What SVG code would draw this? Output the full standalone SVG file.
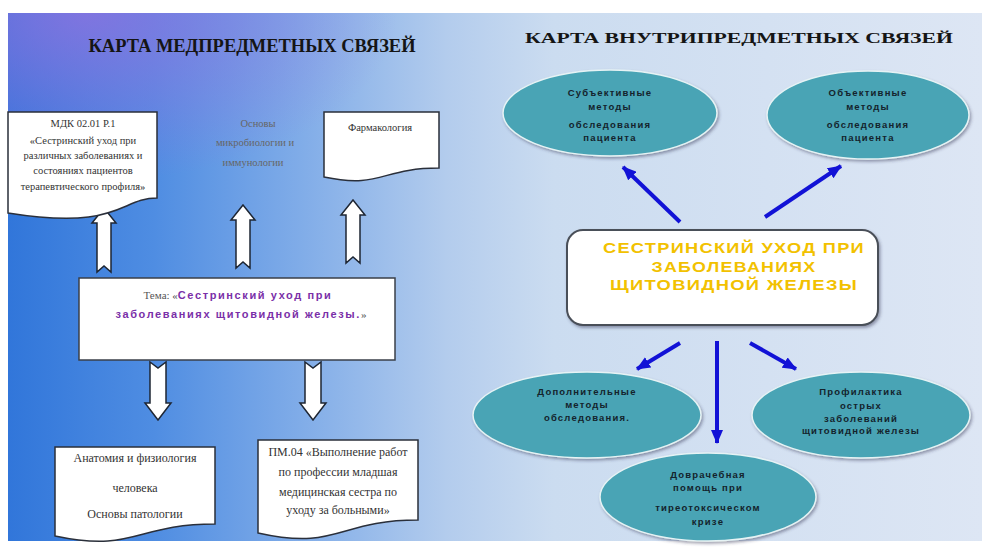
<svg xmlns="http://www.w3.org/2000/svg" width="984" height="547" viewBox="0 0 984 547">
<defs>
<linearGradient id="bg" x1="0" y1="0" x2="1" y2="0">
<stop offset="0" stop-color="#3176da"/>
<stop offset="0.15" stop-color="#4f8de2"/>
<stop offset="0.3" stop-color="#80ace8"/>
<stop offset="0.45" stop-color="#b3cced"/>
<stop offset="0.56" stop-color="#cbdcf0"/>
<stop offset="1" stop-color="#dde6f4"/>
</linearGradient>
<radialGradient id="purple" cx="0.08" cy="0" r="0.32">
<stop offset="0" stop-color="#9470e0" stop-opacity="0.75"/>
<stop offset="1" stop-color="#9470e0" stop-opacity="0"/>
</radialGradient>
<filter id="sh" x="-10%" y="-10%" width="130%" height="140%">
<feDropShadow dx="1.5" dy="2" stdDeviation="1.5" flood-color="#335" flood-opacity="0.45"/>
</filter>
<marker id="ah" viewBox="0 0 14 12" refX="13" refY="6" markerWidth="14" markerHeight="12" orient="auto" markerUnits="userSpaceOnUse">
<path d="M0,0 L14,6 L0,12 Z" fill="#1212d6"/>
</marker>
<style>
.doc{fill:#fff;stroke:#2a2f3a;stroke-width:1.5}
.ser{font-family:"Liberation Serif","Times New Roman",serif;fill:#333;text-anchor:middle}
.s10{font-size:10.5px}
.s11{font-size:12px}
.gray{fill:#666}
.ell{fill:#4aa4b5;stroke:#e6f3f5;stroke-width:1.5;filter:url(#sh)}
.et{font-family:"Liberation Sans",Arial,sans-serif;font-weight:bold;font-size:9.5px;fill:#14232c;text-anchor:middle;letter-spacing:1.2px}
.blk{fill:#fff;stroke:#1e2633;stroke-width:1.5;stroke-linejoin:miter}
.blue{stroke:#1212d6;stroke-width:4;fill:none;marker-end:url(#ah)}
.ttl{font-family:"Liberation Serif","Times New Roman",serif;font-weight:bold;fill:#151515}
.pur{font-family:"Liberation Sans",Arial,sans-serif;font-weight:bold;fill:#7a2fa8;letter-spacing:1.6px}
.gold{font-family:"Liberation Sans",Arial,sans-serif;font-weight:bold;font-size:14px;fill:#f2c100;text-anchor:middle;letter-spacing:1px}
</style>
</defs>

<rect x="8" y="13" width="974" height="528" fill="url(#bg)"/>
<rect x="8" y="13" width="974" height="528" fill="url(#purple)"/>

<text class="ttl" x="252" y="52" font-size="19" text-anchor="middle" textLength="327" lengthAdjust="spacingAndGlyphs">КАРТА МЕДПРЕДМЕТНЫХ СВЯЗЕЙ</text>
<text class="ttl" x="739" y="43" font-size="15.5" text-anchor="middle" textLength="428" lengthAdjust="spacingAndGlyphs">КАРТА ВНУТРИПРЕДМЕТНЫХ СВЯЗЕЙ</text>

<g id="connectors">
<path class="blk" d="M104,208 L116,223 L111,223 L111,272 L104,266 L97,272 L97,223 L92,223 Z"/>
<path class="blk" d="M243,205 L255,220 L250,220 L250,268 L243,262 L236,268 L236,220 L231,220 Z"/>
<path class="blk" d="M353,200 L365,215 L360,215 L360,263 L353,257 L346,263 L346,215 L341,215 Z"/>
<path class="blk" d="M150,362 L158,368 L166,362 L166,403 L171,403 L158,420 L145,403 L150,403 Z"/>
<path class="blk" d="M305,362 L313,368 L321,362 L321,403 L326,403 L313,420 L300,403 L305,403 Z"/>
<line class="blue" x1="680" y1="222" x2="623" y2="167"/>
<line class="blue" x1="765" y1="217" x2="841" y2="166"/>
<line class="blue" x1="680" y1="343" x2="637" y2="369"/>
<line class="blue" x1="717" y1="341" x2="717" y2="443"/>
<line class="blue" x1="750" y1="343" x2="796" y2="369"/>
</g>

<g id="mdk">
<path class="doc" d="M8,112 H157 V198 C120,198 120,231 8,213 Z"/>
<text class="ser s10" x="83" y="127">МДК 02.01 Р.1</text>
<text class="ser s10" x="83" y="144">«Сестринский уход при</text>
<text class="ser s10" x="83" y="159">различных заболеваниях и</text>
<text class="ser s10" x="83" y="174">состояниях пациентов</text>
<text class="ser s10" x="83" y="190">терапевтического профиля»</text>
</g>

<g id="micro">
<text class="ser s10 gray" x="258" y="127">Основы</text>
<text class="ser s10 gray" x="255" y="146">микробиологии и</text>
<text class="ser s10 gray" x="253" y="166">иммунологии</text>
</g>

<g id="pharm">
<path class="doc" d="M324,112 H439 V168 C381,168 381,189 324,177 Z"/>
<text class="ser s10" x="380" y="131">Фармакология</text>
</g>

<g id="tema">
<rect x="79" y="278" width="316" height="82" fill="#fff" stroke="#3a3f48" stroke-width="1.5"/>
<text x="238" y="299" text-anchor="middle" font-size="11"><tspan font-family="Liberation Serif, serif" fill="#555">Тема: «</tspan><tspan class="pur">Сестринский уход при</tspan></text>
<text x="241" y="318" text-anchor="middle" font-size="11"><tspan class="pur">заболеваниях щитовидной железы.</tspan><tspan font-family="Liberation Serif, serif" fill="#555">»</tspan></text>
</g>

<g id="anat">
<path class="doc" d="M55,447 H215 V524 C135,524 135,553 55,536 Z"/>
<text class="ser s11" x="135" y="462">Анатомия и физиология</text>
<text class="ser s11" x="135" y="492">человека</text>
<text class="ser s11" x="135" y="518">Основы патологии</text>
</g>

<g id="pm04">
<path class="doc" d="M258,440 H418 V520 C338,520 338,551 258,533 Z"/>
<text class="ser s11" x="338" y="456">ПМ.04 «Выполнение работ</text>
<text class="ser s11" x="338" y="476">по профессии младшая</text>
<text class="ser s11" x="338" y="496">медицинская сестра по</text>
<text class="ser s11" x="338" y="514">уходу за больными»</text>
</g>

<g id="center">
<rect x="567" y="230" width="311" height="95" rx="16" fill="#fff" stroke="#4a4f58" stroke-width="2" filter="url(#sh)"/>
<text class="gold" x="734" y="253" textLength="262" lengthAdjust="spacingAndGlyphs">СЕСТРИНСКИЙ УХОД ПРИ</text>
<text class="gold" x="734" y="272" textLength="165" lengthAdjust="spacingAndGlyphs">ЗАБОЛЕВАНИЯХ</text>
<text class="gold" x="734" y="290" textLength="248" lengthAdjust="spacingAndGlyphs">ЩИТОВИДНОЙ ЖЕЛЕЗЫ</text>
</g>

<g id="subj">
<ellipse class="ell" cx="610" cy="113" rx="107" ry="43"/>
<text class="et" x="610" y="96">Субъективные</text>
<text class="et" x="610" y="110">методы</text>
<text class="et" x="610" y="128">обследования</text>
<text class="et" x="610" y="141">пациента</text>
</g>

<g id="obj">
<ellipse class="ell" cx="868" cy="115" rx="101" ry="44"/>
<text class="et" x="868" y="96">Объективные</text>
<text class="et" x="868" y="110">методы</text>
<text class="et" x="868" y="128">обследования</text>
<text class="et" x="868" y="141">пациента</text>
</g>

<g id="dop">
<ellipse class="ell" cx="587" cy="415" rx="114" ry="43"/>
<text class="et" x="587" y="395">Дополнительные</text>
<text class="et" x="587" y="408">методы</text>
<text class="et" x="587" y="421">обследования.</text>
</g>

<g id="prof">
<ellipse class="ell" cx="861" cy="415" rx="109" ry="43"/>
<text class="et" x="861" y="395">Профилактика</text>
<text class="et" x="861" y="409">острых</text>
<text class="et" x="861" y="422">заболеваний</text>
<text class="et" x="861" y="434">щитовидной железы</text>
</g>

<g id="dovr">
<ellipse class="ell" cx="708" cy="497" rx="108" ry="44"/>
<text class="et" x="708" y="478">Доврачебная</text>
<text class="et" x="708" y="491">помощь при</text>
<text class="et" x="708" y="511">тиреотоксическом</text>
<text class="et" x="708" y="525">кризе</text>
</g>
</svg>
